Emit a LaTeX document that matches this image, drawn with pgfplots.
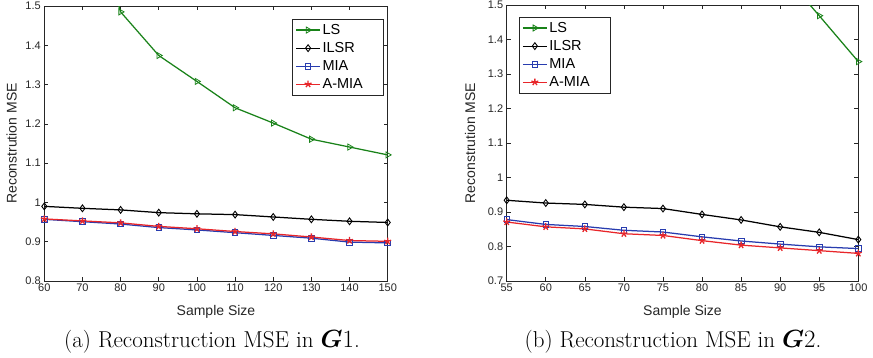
\documentclass[border=0pt]{standalone}
\usepackage{pgfplots}
\pgfplotsset{compat=1.18}
\usepackage{bm}
\usepackage{fontspec}
\newfontfamily\arial{Liberation Sans}
\definecolor{lsgreen}{RGB}{25,130,25}
\definecolor{miablue}{RGB}{40,60,175}
\definecolor{amiared}{RGB}{232,38,42}
\definecolor{tickgray}{RGB}{38,38,38}
\newcommand{\legent}[1]{\makebox[56pt][l]{#1}}
\pgfplotsset{
  mystyle/.style={
    scale only axis,
    anchor=south west,
    axis line style={tickgray, line width=0.6pt},
    major tick length=4pt,
    major tick style={tickgray, line width=0.6pt},
    tick align=inside,
    ticklabel style={font=\arial\fontsize{11}{13}\selectfont, text=tickgray},
    xticklabel style={yshift=1pt},
    /pgf/number format/assume math mode=true,
    /pgf/number format/fixed,
    label style={font=\arial\fontsize{14}{16}\selectfont, text=tickgray},
    xlabel={Sample Size},
    ylabel={Reconstrution MSE},
    xlabel style={at={(axis description cs:0.5,0)}, anchor=base, yshift=-34pt},
    legend style={font=\arial\fontsize{14.5}{16}\selectfont, draw=tickgray, line width=0.6pt, inner sep=3pt, row sep=2.5pt, legend cell align=left},
    legend image post style={line width=1.1pt},
    legend image code/.code={\draw[mark repeat=2,mark phase=2] plot coordinates {(0pt,0pt) (12pt,0pt) (24pt,0pt)};},
    every axis plot/.append style={line width=1.25pt},
    clip=true,
  },
  ls/.style={lsgreen, mark=triangle, mark size=3.5pt, mark options={rotate=-90, fill=white, line width=0.8pt}},
  ilsr/.style={black, mark=diamond, mark size=3.4pt, mark options={fill=white, line width=0.9pt}},
  mia/.style={miablue, mark=square, mark size=2.8pt, mark options={fill=white, line width=0.8pt}},
  amia/.style={amiared, mark=star, mark size=3.6pt, mark options={fill=amiared, line width=1.3pt}},
}
\begin{document}
\begin{tikzpicture}
\path[use as bounding box] (0,0) rectangle (873pt,357pt);
\begin{axis}[mystyle,
  at={(44.3pt,76pt)}, width=343.4pt, height=275pt,
  xmin=60, xmax=150, ymin=0.8, ymax=1.5,
  xtick={60,70,...,150}, ytick={0.8,0.9,...,1.5},
  ylabel style={at={(axis description cs:-0.0955,0.5)}, anchor=center},
  legend style={at={(0.722,0.953)}, anchor=north west},
]
\addplot[ls] coordinates {(70,1.80) (80,1.485) (90,1.374) (100,1.308) (110,1.241) (120,1.202) (130,1.161) (140,1.141) (150,1.121)};
\addplot[ilsr] coordinates {(60,0.990) (70,0.985) (80,0.981) (90,0.974) (100,0.971) (110,0.969) (120,0.963) (130,0.957) (140,0.952) (150,0.949)};
\addplot[mia] coordinates {(60,0.957) (70,0.951) (80,0.945) (90,0.936) (100,0.930) (110,0.923) (120,0.916) (130,0.909) (140,0.899) (150,0.897)};
\addplot[amia] coordinates {(60,0.958) (70,0.953) (80,0.948) (90,0.939) (100,0.933) (110,0.926) (120,0.920) (130,0.912) (140,0.903) (150,0.901)};
\legend{\legent{LS},\legent{ILSR},\legent{MIA},\legent{A-MIA}}
\end{axis}
\begin{axis}[mystyle,
  at={(506.7pt,76pt)}, width=351.6pt, height=276pt,
  xmin=55, xmax=100, ymin=0.7, ymax=1.5,
  xtick={55,60,...,100}, ytick={0.7,0.8,...,1.5},
  ylabel style={at={(axis description cs:-0.104,0.5)}, anchor=center},
  legend style={at={(0.035,0.957)}, anchor=north west},
]
\addplot[ls] coordinates {(90,1.60) (95,1.469) (100,1.336)};
\addplot[ilsr] coordinates {(55,0.934) (60,0.926) (65,0.922) (70,0.914) (75,0.910) (80,0.893) (85,0.877) (90,0.857) (95,0.841) (100,0.820)};
\addplot[mia] coordinates {(55,0.878) (60,0.864) (65,0.858) (70,0.847) (75,0.842) (80,0.828) (85,0.816) (90,0.807) (95,0.799) (100,0.794)};
\addplot[amia] coordinates {(55,0.871) (60,0.857) (65,0.851) (70,0.837) (75,0.832) (80,0.817) (85,0.804) (90,0.796) (95,0.788) (100,0.780)};
\legend{\legent{LS},\legent{ILSR},\legent{MIA},\legent{A-MIA}}
\end{axis}
\node[font=\fontsize{23}{27}\selectfont, anchor=base] at (212pt,10pt) {(a) Reconstruction MSE in $\bm{G}1$.};
\node[font=\fontsize{23}{27}\selectfont, anchor=base] at (673pt,10pt) {(b) Reconstruction MSE in $\bm{G}2$.};
\end{tikzpicture}
\end{document}
